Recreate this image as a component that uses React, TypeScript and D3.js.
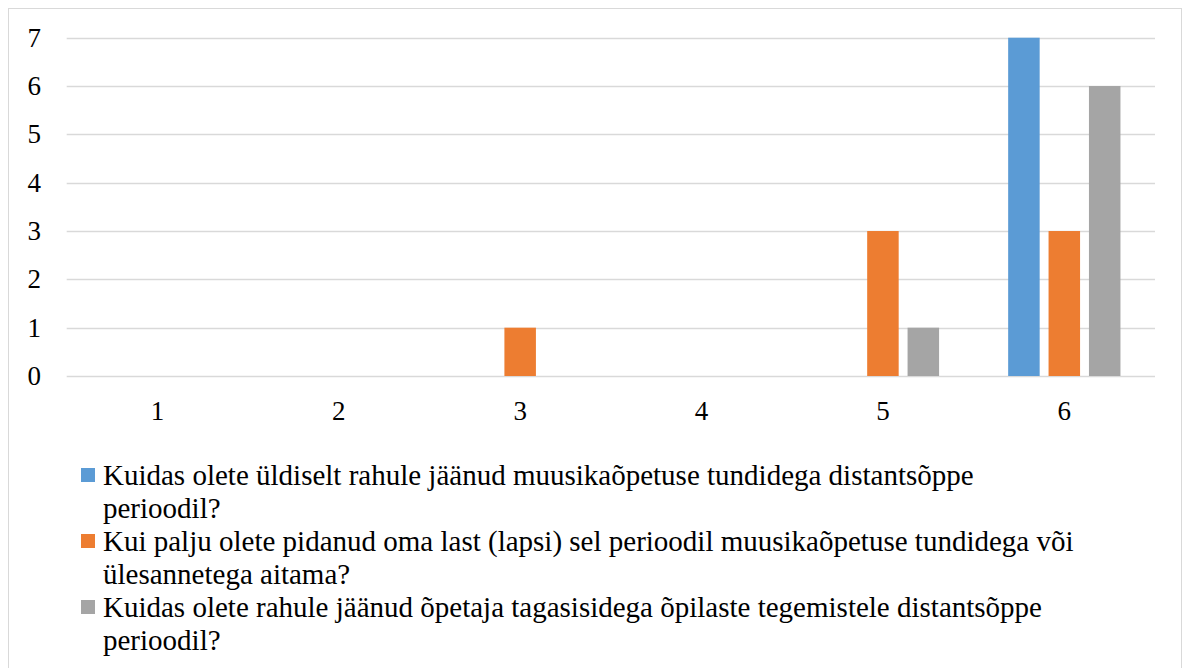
import React, { useRef, useEffect } from "react";
import * as d3 from "d3";

// x categories and y ticks
const categories = ["1", "2", "3", "4", "5", "6"];
const yTicks = [0, 1, 2, 3, 4, 5, 6, 7];

// series names (legend) and values per category
const seriesNames = [
  "Kuidas olete üldiselt rahule jäänud muusikaõpetuse tundidega distantsõppe perioodil?",
  "Kui palju olete pidanud oma last (lapsi) sel perioodil muusikaõpetuse tundidega või ülesannetega aitama?",
  "Kuidas olete rahule jäänud õpetaja tagasisidega õpilaste tegemistele distantsõppe perioodil?",
];
const seriesColors = ["#5B9BD5", "#ED7D31", "#A5A5A5"];
const rahul = [0, 0, 0, 0, 0, 7];
const aitama = [0, 0, 1, 0, 3, 3];
const tagasiside = [0, 0, 0, 0, 1, 6];
const seriesValues = [rahul, aitama, tagasiside];

const W = 1184;
const H = 668;
const FONT = '"Times New Roman", "Liberation Serif", serif';
const AXIS_FS = 27;
const LEGEND_FS = 29;

export default function App() {
  const svgRef = useRef<SVGSVGElement>(null);

  useEffect(() => {
    const svg = d3.select(svgRef.current);
    svg.selectAll("*").remove();

    // outer frame (bottom edge falls outside the picture)
    svg
      .append("rect")
      .attr("x", 8.5)
      .attr("y", 8.5)
      .attr("width", 1173)
      .attr("height", 680)
      .attr("fill", "#fff")
      .attr("stroke", "#D9D9D9");

    const left = 66.7;
    const right = 1155;
    const x = d3.scaleBand().domain(categories).range([left, right]);
    const groupW = 112.3;
    const inner = d3
      .scaleBand()
      .domain(seriesNames.map((_, i) => String(i)))
      .range([(x.bandwidth() - groupW) / 2, (x.bandwidth() + groupW) / 2])
      .paddingInner(0.22);
    const y = d3.scaleLinear().domain([0, 7]).range([376, 37.7]);

    // gridlines
    svg
      .append("g")
      .selectAll("line")
      .data(yTicks)
      .join("line")
      .attr("x1", left)
      .attr("x2", right)
      .attr("y1", (d) => Math.round(y(d)) + 0.5)
      .attr("y2", (d) => Math.round(y(d)) + 0.5)
      .attr("stroke", "#D9D9D9")
      .attr("stroke-width", 1.3);

    // y labels
    svg
      .append("g")
      .selectAll("text")
      .data(yTicks)
      .join("text")
      .attr("x", 41)
      .attr("y", (d) => y(d) + 9)
      .attr("text-anchor", "end")
      .style("font-family", FONT)
      .style("font-size", AXIS_FS + "px")
      .attr("fill", "#000")
      .text((d) => d);

    // x labels
    svg
      .append("g")
      .selectAll("text")
      .data(categories)
      .join("text")
      .attr("x", (d) => x(d)! + x.bandwidth() / 2)
      .attr("y", 420)
      .attr("text-anchor", "middle")
      .style("font-family", FONT)
      .style("font-size", AXIS_FS + "px")
      .attr("fill", "#000")
      .text((d) => d);

    // bars
    seriesValues.forEach((vals, si) => {
      svg
        .append("g")
        .selectAll("rect")
        .data(vals)
        .join("rect")
        .attr("x", (_, i) => x(categories[i])! + inner(String(si))!)
        .attr("width", inner.bandwidth())
        .attr("y", (d) => y(d))
        .attr("height", (d) => y(0) - y(d))
        .attr("fill", seriesColors[si]);
    });

    // legend with wrapping
    const maxW = 995;
    let baseline = 485;
    const lineH = 33;
    const addLine = (g: any, yy: number) =>
      g
        .append("text")
        .attr("x", 103)
        .attr("y", yy)
        .style("font-family", FONT)
        .style("font-size", LEGEND_FS + "px")
        .attr("fill", "#000");
    seriesNames.forEach((name, si) => {
      const g = svg.append("g");
      g.append("rect")
        .attr("x", 81)
        .attr("y", baseline - 17)
        .attr("width", 14)
        .attr("height", 14)
        .attr("fill", seriesColors[si]);
      const words = name.split(" ");
      let line: string[] = [];
      let t = addLine(g, baseline);
      words.forEach((w) => {
        line.push(w);
        t.text(line.join(" "));
        const node = t.node() as SVGTextElement;
        if (node.getComputedTextLength() > maxW && line.length > 1) {
          line.pop();
          t.text(line.join(" "));
          line = [w];
          baseline += lineH;
          t = addLine(g, baseline).text(w);
        }
      });
      baseline += lineH;
    });
  }, []);

  return (
    <svg
      ref={svgRef}
      width={W}
      height={H}
      style={{ position: "absolute", left: 0, top: 0, display: "block" }}
    />
  );
}
